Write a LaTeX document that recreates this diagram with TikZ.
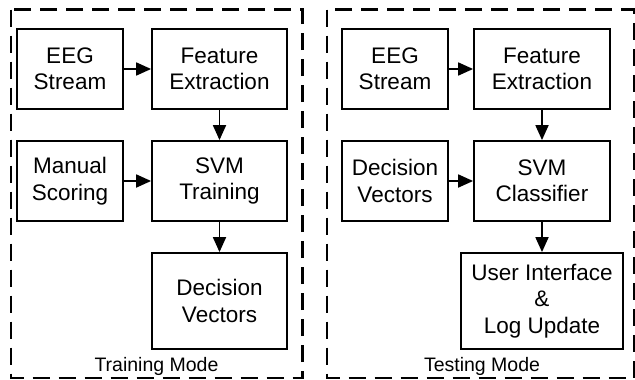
\documentclass[tikz,border=0pt]{standalone}
\usepackage{fontspec}
\setmainfont{Liberation Sans}
\usetikzlibrary{arrows.meta}

\begin{document}
\begin{tikzpicture}[x=1pt,y=-1pt,
	blk/.style={draw,line width=1.8pt,align=center,inner sep=0pt,minimum height=80pt,font=\fontsize{22.5}{26.5}\selectfont},
	frame/.style={line width=2.6pt,dash pattern=on 17pt off 9pt},
	arr/.style={line width=1.8pt,-{Triangle[length=15pt,width=13pt]}},
	modelbl/.style={anchor=base,font=\fontsize{19.5}{22}\selectfont}]
	\useasboundingbox (0,0) rectangle (635,380);
	% two mode frames
	\draw[frame] (11,9.5) rectangle (302.5,378);
	\draw[frame] (327,9.5) rectangle (634,378);
	\node[modelbl] (trainlbl) at (156.5,371) {Training Mode};
	\node[modelbl] (testlbl) at (482,371) {Testing Mode};
	% training side
	\node[blk,minimum width=106pt] (eegA) at (70,69) {EEG\\Stream};
	\node[blk,minimum width=135pt] (featA) at (219.5,69) {Feature\\Extraction};
	\node[blk,minimum width=106pt] (manual) at (70,181) {Manual\\Scoring};
	\node[blk,minimum width=135pt] (svmA) at (219.5,181) {SVM\\Training};
	\node[blk,minimum width=135pt,minimum height=96pt] (decA) at (219.5,301) {Decision\\Vectors};
	\draw[arr] (eegA) -- (featA);
	\draw[arr] (featA) -- (svmA);
	\draw[arr] (manual) -- (svmA);
	\draw[arr] (svmA) -- (decA);
	% testing side
	\node[blk,minimum width=106pt] (eegB) at (395,69) {EEG\\Stream};
	\node[blk,minimum width=136pt] (featB) at (542,69) {Feature\\Extraction};
	\node[blk,minimum width=106pt] (decB) at (395,181) {Decision\\Vectors};
	\node[blk,minimum width=136pt] (svmB) at (542,181) {SVM\\Classifier};
	\node[blk,minimum width=162pt,minimum height=96pt] (ui) at (542,301) {User Interface\\\&\\Log Update};
	\draw[arr] (eegB) -- (featB);
	\draw[arr] (featB) -- (svmB);
	\draw[arr] (decB) -- (svmB);
	\draw[arr] (svmB) -- (ui);
\end{tikzpicture}
\end{document}
